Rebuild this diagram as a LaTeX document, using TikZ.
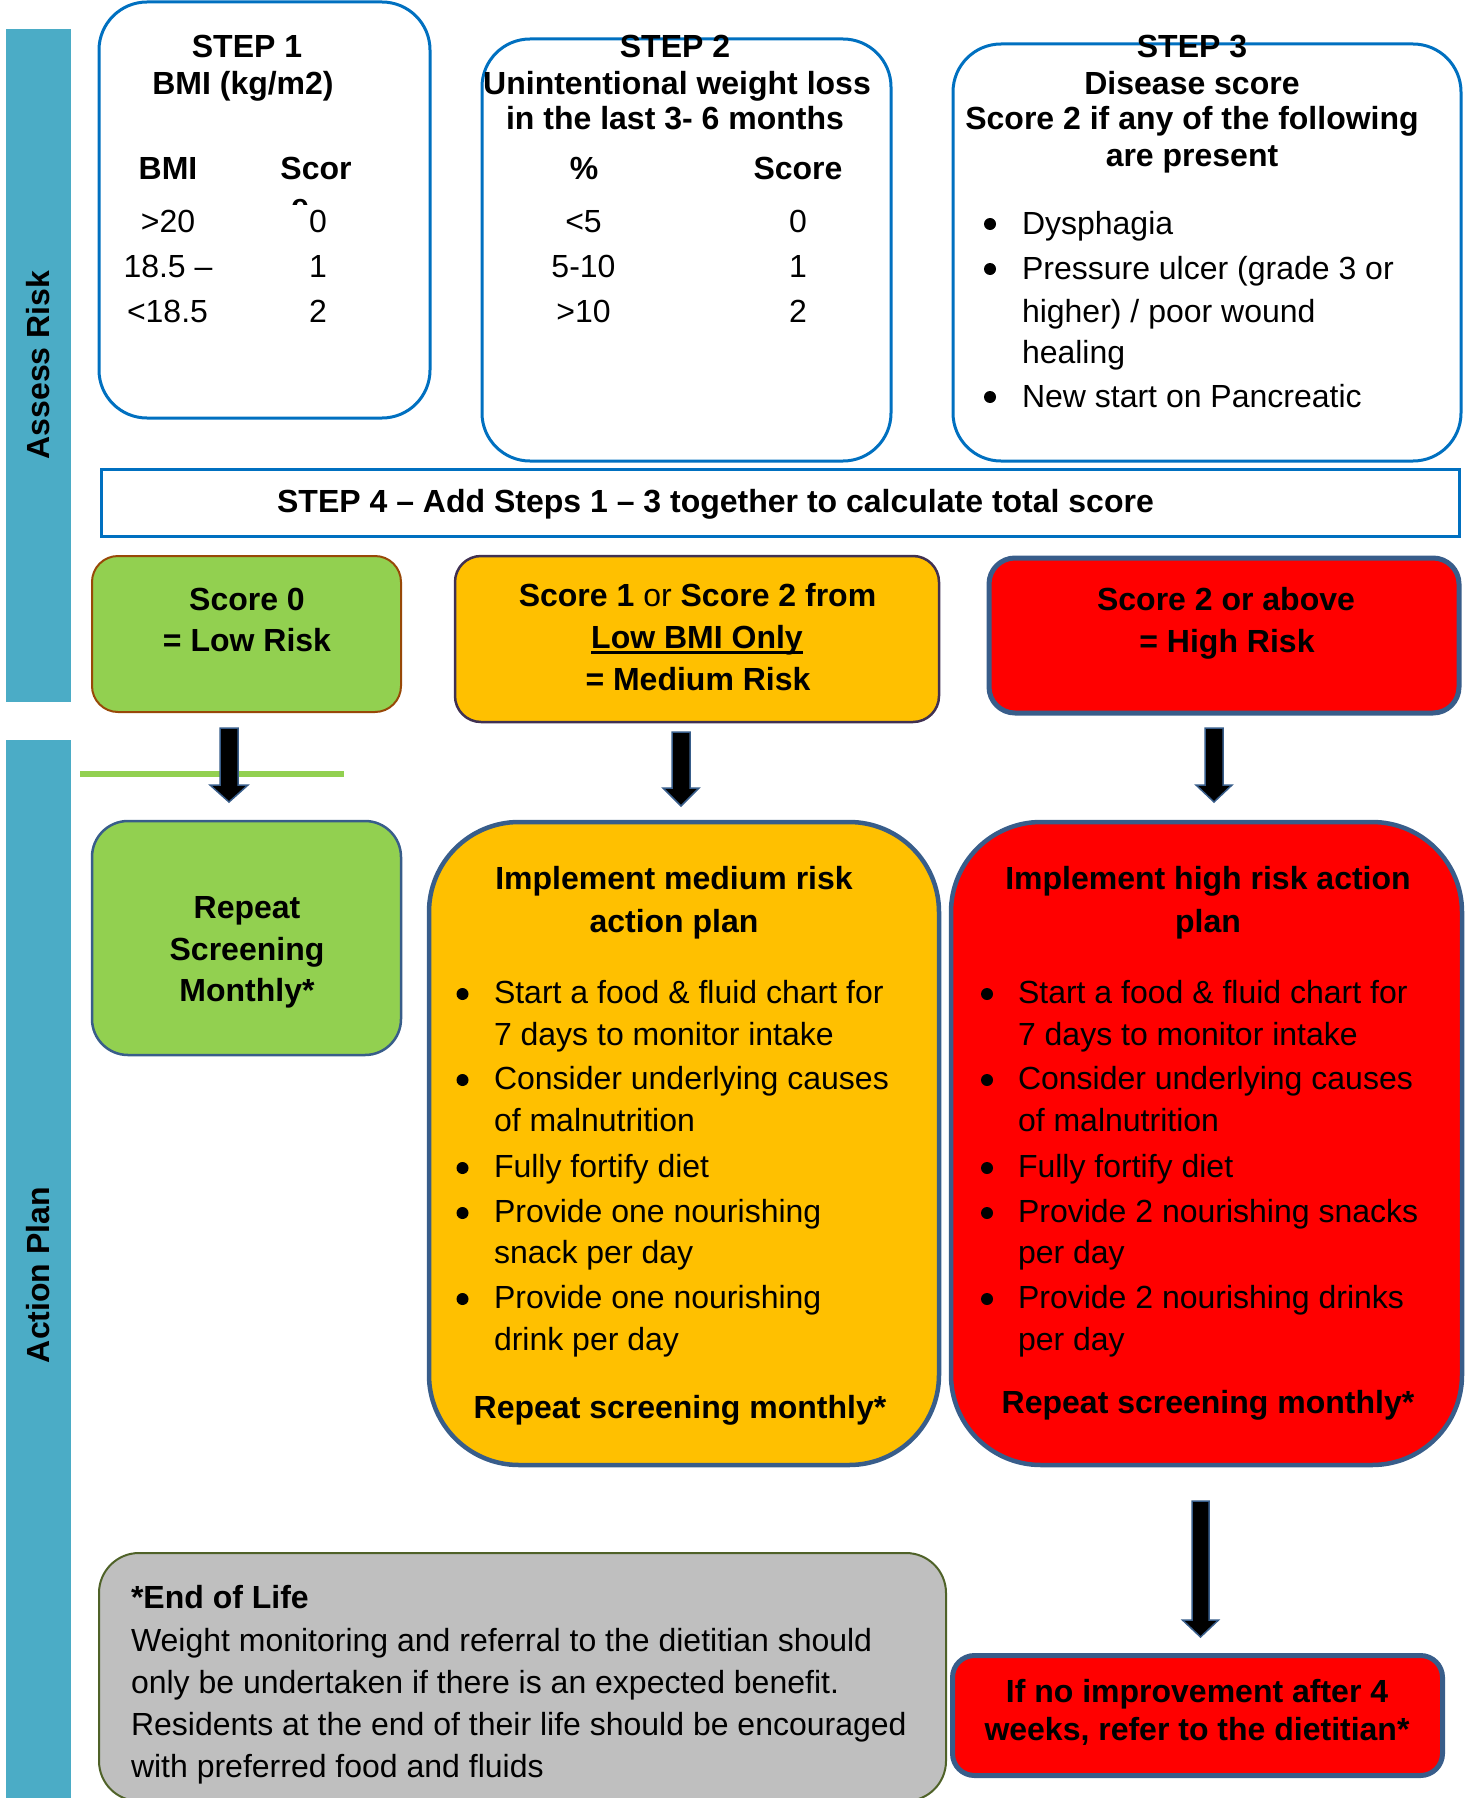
\documentclass[tikz,border=0pt]{standalone}
\usepackage{fontspec}
\setmainfont{Liberation Sans}
\usetikzlibrary{calc}
\definecolor{sidec}{HTML}{4BACC6}
\definecolor{stepblue}{HTML}{0070C0}
\definecolor{lgreen}{HTML}{92D050}
\definecolor{orng}{HTML}{FFC000}
\definecolor{rd}{HTML}{FF0000}
\definecolor{gry}{HTML}{BFBFBF}
\definecolor{dblue}{HTML}{385D8A}
\definecolor{brn}{HTML}{984807}
\definecolor{purp}{HTML}{403152}
\definecolor{olivec}{HTML}{4F6228}
\newcommand\fsz{\fontsize{32pt}{42pt}\selectfont}
\begin{document}
\begin{tikzpicture}[x=1pt,y=-1pt,
  box/.style={draw, inner sep=0pt, outer sep=0pt},
  stepbox/.style={box, draw=stepblue, line width=3pt, rounded corners=48pt},
  tx/.style={inner sep=0pt, outer sep=0pt, anchor=base, font=\fsz},
  txb/.style={tx, font=\fsz\bfseries},
  txl/.style={tx, anchor=base west},
  txlb/.style={txb, anchor=base west},
  dot/.style={circle, fill=black, inner sep=0pt, minimum size=12pt},
  blk/.style={fill=black, draw=dblue, line width=1.5pt, line join=miter},
]
\useasboundingbox (0,0) rectangle (1466,1798);
% side bars
\fill[sidec] (6,29) rectangle (71,702);
\fill[sidec] (6,740) rectangle (71,1798);
\node[txb, anchor=center, rotate=90] (lblA) at (38,365) {Assess Risk};
\node[txb, anchor=center, rotate=90] (lblB) at (38,1275) {Action Plan};

% ---------- STEP 1 ----------
\node[stepbox, minimum width=331pt, minimum height=416pt] (s1) at (264.5,210) {};
\node[txb] (s1t1) at (247,58) {STEP 1};
\node[txb] (s1t2) at (243,95) {BMI (kg/m2)};
\node[txb] (s1h1) at (168,180) {BMI};
\node[txb] (s1h2) at (316,180) {Scor};
\begin{scope}
  \clip (285,196) rectangle (315,204.5);
  \node[txb] (s1e) at (300,216) {e};
\end{scope}
\node[tx] (s1r1) at (168,232) {>20};
\node[tx] (s1r2) at (168,277) {18.5 –};
\node[tx] (s1r3) at (167.5,322) {<18.5};
\node[tx] (s1c1) at (318,232) {0};
\node[tx] (s1c2) at (318,277) {1};
\node[tx] (s1c3) at (318,322) {2};

% ---------- STEP 2 ----------
\node[stepbox, minimum width=409pt, minimum height=422pt] (s2) at (686.5,250) {};
\node[txb] (s2t1) at (675,58) {STEP 2};
\node[txb] (s2t2) at (677,94.5) {Unintentional weight loss};
\node[txb] (s2t3) at (675,130) {in the last 3- 6 months};
\node[txb] (s2h1) at (584,180) {\%};
\node[txb] (s2h2) at (798,180) {Score};
\node[tx] (s2r1) at (583.5,232) {<5};
\node[tx] (s2r2) at (583.5,277) {5-10};
\node[tx] (s2r3) at (583.5,322) {>10};
\node[tx] (s2c1) at (798,232) {0};
\node[tx] (s2c2) at (798,277) {1};
\node[tx] (s2c3) at (798,322) {2};

% ---------- STEP 3 ----------
\node[stepbox, minimum width=508pt, minimum height=417pt] (s3) at (1207,252.5) {};
\node[txb] (s3t1) at (1192,58) {STEP 3};
\node[txb] (s3t2) at (1192,95) {Disease score};
\node[txb] (s3t3) at (1192,130) {Score 2 if any of the following};
\node[txb] (s3t4) at (1192,167) {are present};
\node[dot] (s3b1) at (990,224) {};
\node[txl] (s3l1) at (1022,234) {Dysphagia};
\node[dot] (s3b2) at (990,269) {};
\node[txl] (s3l2) at (1022,279) {Pressure ulcer (grade 3 or};
\node[txl] (s3l3) at (1022,322) {higher) / poor wound};
\node[txl] (s3l4) at (1022,363) {healing};
\node[dot] (s3b3) at (990,397) {};
\node[txl] (s3l5) at (1022,407) {New start on Pancreatic};

% ---------- STEP 4 ----------
\node[box, draw=stepblue, line width=3pt, minimum width=1358pt, minimum height=67pt] (s4) at (780,502.5) {};
\node[txb] (s4t) at (715.5,512) {STEP 4 – Add Steps 1 – 3 together to calculate total score};

% ---------- risk boxes ----------
\node[box, fill=lgreen, draw=brn, line width=2pt, rounded corners=26pt, minimum width=309pt, minimum height=156pt] (low) at (246.5,634) {};
\node[txb] (lowt1) at (247,610) {Score 0};
\node[txb] (lowt2) at (247,651) {= Low Risk};

\node[box, fill=orng, draw=purp, line width=2.5pt, rounded corners=26pt, minimum width=484pt, minimum height=166pt] (med) at (697,639) {};
\node[tx] (medt1) at (697.5,606) {\textbf{Score 1} or \textbf{Score 2 from}};
\node[txb] (medt2) at (697,648) {Low BMI Only};
\draw[line width=3pt] ($(medt2.base west)+(0,4.5)$) -- ($(medt2.base east)+(0,4.5)$);
\node[txb] (medt3) at (698,690) {= Medium Risk};

\node[box, fill=rd, draw=dblue, line width=5pt, rounded corners=26pt, minimum width=470pt, minimum height=155pt] (high) at (1224,635.5) {};
\node[txb] (hight1) at (1226,610) {Score 2 or above};
\node[txb] (hight2) at (1227,652) {= High Risk};

% green line
\draw[lgreen, line width=6pt] (80,774) -- (344,774);

% ---------- block arrows ----------
\coordinate (a1) at (229,728);
\coordinate (a2) at (681,732);
\coordinate (a3) at (1214,728);
\coordinate (a4) at (1200.5,1501);
\draw[blk] ($(a1)+(-9,0)$) -- ++(18,0) -- ++(0,57) -- ++(10,0) -- ++(-19,17) -- ++(-19,-17) -- ++(10,0) -- cycle;
\draw[blk] ($(a2)+(-9,0)$) -- ++(18,0) -- ++(0,56) -- ++(9,0) -- ++(-18,18) -- ++(-18,-18) -- ++(9,0) -- cycle;
\draw[blk] ($(a3)+(-9,0)$) -- ++(18,0) -- ++(0,57) -- ++(9,0) -- ++(-18,17) -- ++(-18,-17) -- ++(9,0) -- cycle;
\draw[blk] ($(a4)+(-8.5,0)$) -- ++(17,0) -- ++(0,119) -- ++(9.5,0) -- ++(-18,17) -- ++(-18,-17) -- ++(9.5,0) -- cycle;

% ---------- action boxes ----------
\node[box, fill=lgreen, draw=dblue, line width=2.5pt, rounded corners=36pt, minimum width=309pt, minimum height=234pt] (rep) at (246.5,938) {};
\node[txb] (rept1) at (247,918) {Repeat};
\node[txb] (rept2) at (247,960) {Screening};
\node[txb] (rept3) at (247,1001) {Monthly*};

\node[box, fill=orng, draw=dblue, line width=4.5pt, rounded corners=90pt, minimum width=510pt, minimum height=643pt] (mact) at (684,1143.5) {};
\node[txb] (mat1) at (674,889) {Implement medium risk};
\node[txb] (mat2) at (674,932) {action plan};
\node[dot] (mb1) at (462.5,994) {};
\node[dot] (mb2) at (462.5,1080) {};
\node[dot] (mb3) at (462.5,1168) {};
\node[dot] (mb4) at (462.5,1213) {};
\node[dot] (mb5) at (462.5,1299) {};
\node[txl] (ml1) at (494,1003) {Start a food \& fluid chart for};
\node[txl] (ml2) at (494,1045) {7 days to monitor intake};
\node[txl] (ml3) at (494,1089) {Consider underlying causes};
\node[txl] (ml4) at (494,1131) {of malnutrition};
\node[txl] (ml5) at (494,1177) {Fully fortify diet};
\node[txl] (ml6) at (494,1222) {Provide one nourishing};
\node[txl] (ml7) at (494,1263) {snack per day};
\node[txl] (ml8) at (494,1308) {Provide one nourishing};
\node[txl] (ml9) at (494,1350) {drink per day};
\node[txb] (mrep) at (680,1418) {Repeat screening monthly*};

\node[box, fill=rd, draw=dblue, line width=4.5pt, rounded corners=90pt, minimum width=511pt, minimum height=643pt] (hact) at (1206.5,1143.5) {};
\node[txb] (hat1) at (1208,889) {Implement high risk action};
\node[txb] (hat2) at (1208,932) {plan};
\node[dot] (hb1) at (987,994) {};
\node[dot] (hb2) at (987,1080) {};
\node[dot] (hb3) at (987,1168) {};
\node[dot] (hb4) at (987,1213) {};
\node[dot] (hb5) at (987,1299) {};
\node[txl] (hl1) at (1018,1003) {Start a food \& fluid chart for};
\node[txl] (hl2) at (1018,1045) {7 days to monitor intake};
\node[txl] (hl3) at (1018,1089) {Consider underlying causes};
\node[txl] (hl4) at (1018,1131) {of malnutrition};
\node[txl] (hl5) at (1018,1177) {Fully fortify diet};
\node[txl] (hl6) at (1018,1222) {Provide 2 nourishing snacks};
\node[txl] (hl7) at (1018,1263) {per day};
\node[txl] (hl8) at (1018,1308) {Provide 2 nourishing drinks};
\node[txl] (hl9) at (1018,1350) {per day};
\node[txb] (hrep) at (1208,1413) {Repeat screening monthly*};

% ---------- end of life ----------
\node[box, fill=gry, draw=olivec, line width=2pt, rounded corners=40pt, minimum width=847pt, minimum height=248pt] (eol) at (522.5,1677) {};
\node[txlb] (eol1) at (131,1608) {*End of Life};
\node[txl] (eol2) at (131,1651) {Weight monitoring and referral to the dietitian should};
\node[txl] (eol3) at (131,1693) {only be undertaken if there is an expected benefit.};
\node[txl] (eol4) at (131,1735) {Residents at the end of their life should be encouraged};
\node[txl] (eol5) at (131,1777) {with preferred food and fluids};

% ---------- refer ----------
\node[box, fill=rd, draw=dblue, line width=5pt, rounded corners=22pt, minimum width=490pt, minimum height=120pt] (refer) at (1197.5,1715.5) {};
\node[txb] (ref1) at (1197,1702) {If no improvement after 4};
\node[txb] (ref2) at (1197,1740) {weeks, refer to the dietitian*};
\end{tikzpicture}
\end{document}
